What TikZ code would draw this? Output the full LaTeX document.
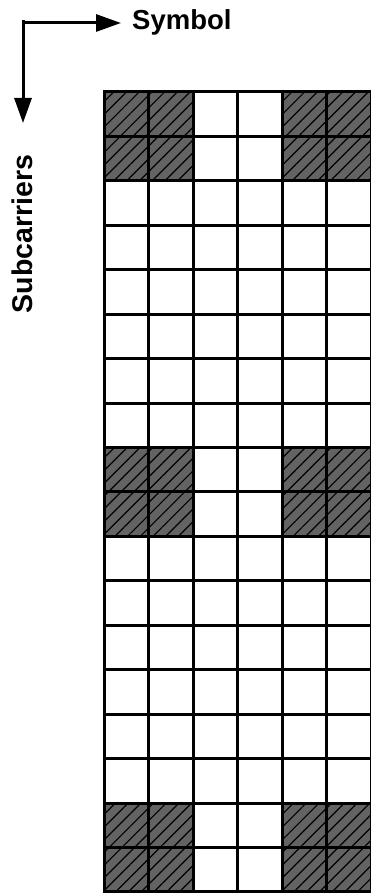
\documentclass[tikz,border=0pt]{standalone}
\usepackage{fontspec}
\setmainfont{Liberation Sans}
\usetikzlibrary{arrows.meta,patterns.meta}
\tikzset{
  axis/.style={line width=3pt, -{Triangle[length=25pt,width=17pt]}},
  lbl/.style={inner sep=0pt, font=\bfseries\fontsize{27.5}{30}\selectfont},
  cellbox/.style={draw=black, line width=3pt, fill=white},
  hatched/.style={draw=black, line width=3pt, fill=hatchgray,
    postaction={pattern={Lines[angle=45,distance=9pt,line width=1.2pt]}, pattern color=black}},
}
\definecolor{hatchgray}{HTML}{636363}
\begin{document}
\begin{tikzpicture}[x=1pt,y=-1pt]
\useasboundingbox (0,0) rectangle (370,893);
% axes
\coordinate (corner) at (23,23);
\coordinate (xtip) at (121,23);
\coordinate (ytip) at (23,123);
\draw[line width=3pt] (23,20) -- (corner);
\draw[axis] (corner) -- (xtip);
\draw[axis] (corner) -- (ytip);
\node[lbl, anchor=base west] (sym) at (132,30) {Symbol};
\node[lbl, anchor=base, rotate=90, font=\bfseries\fontsize{28.5}{30}\selectfont] (sub) at (32,234) {Subcarriers};
% grid
\foreach \r in {0,...,17}{
  \foreach \c in {0,...,5}{
    \pgfmathtruncatemacro{\hr}{(\r==0)||(\r==1)||(\r==8)||(\r==9)||(\r==16)||(\r==17)}
    \pgfmathtruncatemacro{\hc}{(\c==0)||(\c==1)||(\c==4)||(\c==5)}
    \pgfmathtruncatemacro{\h}{\hr*\hc}
    \ifnum\h=1
      \draw[hatched] (104+44.5*\c,92+44.44*\r) rectangle ++(44.5,44.44);
    \else
      \draw[cellbox] (104+44.5*\c,92+44.44*\r) rectangle ++(44.5,44.44);
    \fi
  }
}
\end{tikzpicture}
\end{document}
